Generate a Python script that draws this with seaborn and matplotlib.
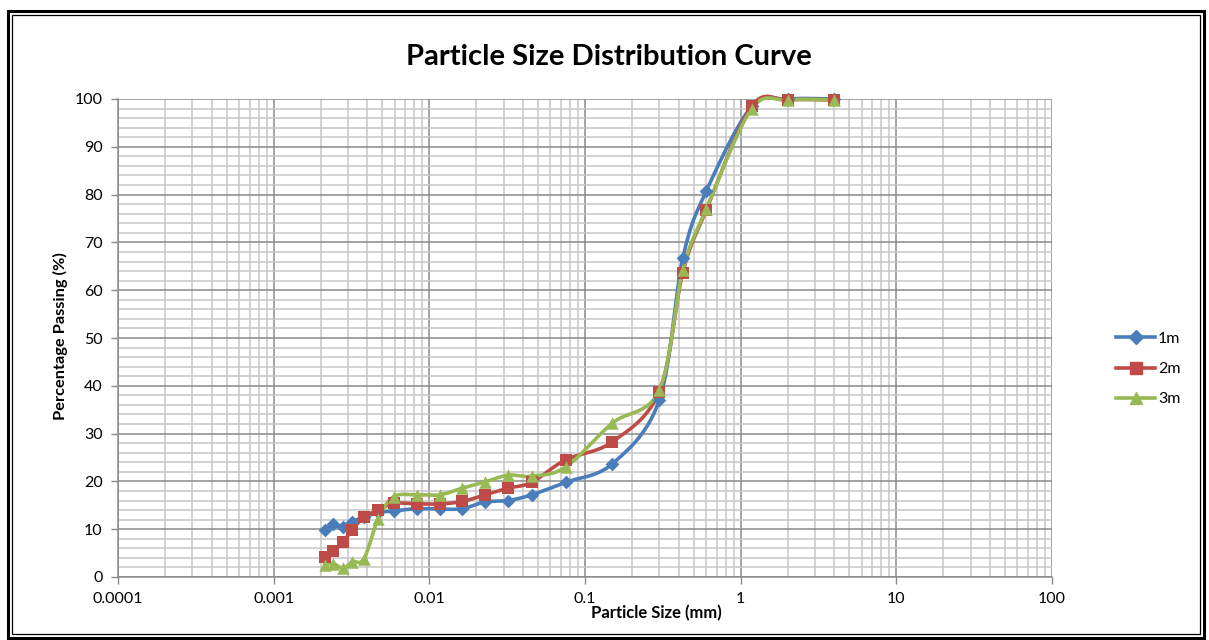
import numpy as np
import pandas as pd
import seaborn as sns
import matplotlib.pyplot as plt
from matplotlib.lines import Line2D
from matplotlib.patches import Rectangle
from matplotlib.ticker import FixedLocator, FixedFormatter, NullFormatter

# particle sizes (mm), shared by all three depths
size_mm = [0.00213, 0.00242, 0.0028, 0.0032, 0.0038, 0.0047, 0.0059, 0.0083,
           0.0117, 0.0163, 0.0228, 0.0321, 0.0454, 0.075, 0.15, 0.3, 0.425,
           0.6, 1.18, 2.0, 4.0]

pass_1m = [9.8, 11.1, 10.4, 11.6, 12.5, 13.5, 13.8, 14.3, 14.2, 14.3, 15.7,
           16.0, 17.2, 19.8, 23.7, 37.0, 66.7, 80.7, 98.5, 100, 100]
pass_2m = [4.2, 5.5, 7.4, 9.9, 12.5, 14.0, 15.4, 15.3, 15.3, 15.8, 17.2,
           18.6, 19.8, 24.5, 28.3, 38.8, 63.7, 76.7, 98.5, 99.8, 99.8]
pass_3m = [2.6, 2.8, 1.8, 3.2, 3.8, 12.2, 16.8, 17.2, 17.2, 18.6, 19.9,
           21.3, 21.1, 23.0, 32.2, 39.1, 64.2, 76.9, 98.0, 99.8, 99.8]

series = ["1m", "2m", "3m"]
colors = ["#4A7EBB", "#BE4B48", "#98B954"]
markers = ["D", "s", "^"]
msizes = [7, 8, 9]

x_ticks = [0.0001, 0.001, 0.01, 0.1, 1, 10, 100]
x_labels = ["0.0001", "0.001", "0.01", "0.1", "1", "10", "100"]

plt.rcParams['font.family'] = ['Lato', 'DejaVu Sans']


def smooth(xs, ys, n=30):
    # excel style smoothed line (catmull-rom bezier) in log-x space
    u = np.log10(xs)
    p = np.column_stack([u, ys])
    p = np.vstack([p[0], p, p[-1]])
    out = []
    for i in range(1, len(p) - 2):
        p0, p1, p2, p3 = p[i - 1], p[i], p[i + 1], p[i + 2]
        b1 = p1 + (p2 - p0) / 6.0
        b2 = p2 - (p3 - p1) / 6.0
        t = np.linspace(0, 1, n)[:, None]
        seg = (1 - t) ** 3 * p1 + 3 * (1 - t) ** 2 * t * b1 + 3 * (1 - t) * t ** 2 * b2 + t ** 3 * p2
        out.append(seg if i == 1 else seg[1:])
    out = np.vstack(out)
    return 10 ** out[:, 0], out[:, 1]


fig = plt.figure(figsize=(12.09, 6.4), dpi=100)
ax = fig.add_axes([118 / 1209, 1 - 577 / 640, (1052 - 118) / 1209, (577 - 99) / 640])

ax.set_xscale('log')
ax.set_xlim(1e-4, 100)
ax.set_ylim(0, 100)

# grid
minor_x = [m * 10.0 ** e for e in range(-4, 2) for m in range(2, 10)]
ax.xaxis.set_major_locator(FixedLocator(x_ticks))
ax.xaxis.set_major_formatter(FixedFormatter(x_labels))
ax.xaxis.set_minor_locator(FixedLocator(minor_x))
ax.xaxis.set_minor_formatter(NullFormatter())
ax.yaxis.set_major_locator(FixedLocator(np.arange(0, 101, 10)))
ax.yaxis.set_minor_locator(FixedLocator(np.arange(0, 101, 2)))
ax.grid(which='minor', color='#c6c6c6', lw=1.1)
ax.grid(which='major', color='#8a8a8a', lw=1.1)
ax.set_axisbelow(True)
ax.tick_params(which='major', length=5, width=1, color='#8a8a8a', labelsize=11.5, pad=6)
ax.tick_params(which='minor', length=0)
for s in ['top', 'right']:
    ax.spines[s].set_visible(False)
for s in ['left', 'bottom']:
    ax.spines[s].set_color('#8a8a8a')
    ax.spines[s].set_linewidth(1.1)

handles = []
for name, ys, c, m, ms in zip(series, [pass_1m, pass_2m, pass_3m], colors, markers, msizes):
    sx, sy = smooth(size_mm, ys)
    df_line = pd.DataFrame({'x': sx, 'y': sy})
    sns.lineplot(data=df_line, x='x', y='y', ax=ax, color=c, lw=2.6, sort=False,
                 estimator=None, clip_on=False, zorder=3)
    df_pts = pd.DataFrame({'x': size_mm, 'y': ys})
    sns.scatterplot(data=df_pts, x='x', y='y', ax=ax, color=c, marker=m, s=ms ** 2,
                    edgecolor=c, linewidth=0, clip_on=False, zorder=4)
    handles.append(Line2D([0], [0], color=c, lw=2.6, marker=m, markersize=ms, label=name))

ax.set_xlabel('')
ax.set_ylabel('')
ax.legend(handles=handles, loc='center left', bbox_to_anchor=(1110 / 1209, 1 - 369 / 640),
          bbox_transform=fig.transFigure, frameon=False, fontsize=11.5, handlelength=2.4,
          handletextpad=0.2, labelspacing=1.0, borderaxespad=0)

fig.text(609 / 1209, 1 - 57 / 640, 'Particle Size Distribution Curve', ha='center', va='center',
         fontsize=21, fontweight='bold')
fig.text(60 / 1209, 1 - 336 / 640, 'Percentage Passing (%)', ha='center', va='center',
         rotation=90, fontsize=11.8, fontweight='bold')
fig.text(656 / 1209, 1 - 613 / 640, 'Particle Size (mm)', ha='center', va='center',
         fontsize=12, fontweight='bold')

# double border around the chart
fig.patches.append(Rectangle((8 / 1209, 2 / 640), 1196 / 1209, 627 / 640, transform=fig.transFigure,
                             fill=False, ec='black', lw=2.2))
fig.patches.append(Rectangle((12 / 1209, 6 / 640), 1188 / 1209, 619 / 640, transform=fig.transFigure,
                             fill=False, ec='black', lw=0.9))

fig.savefig('out.png', dpi=100)
